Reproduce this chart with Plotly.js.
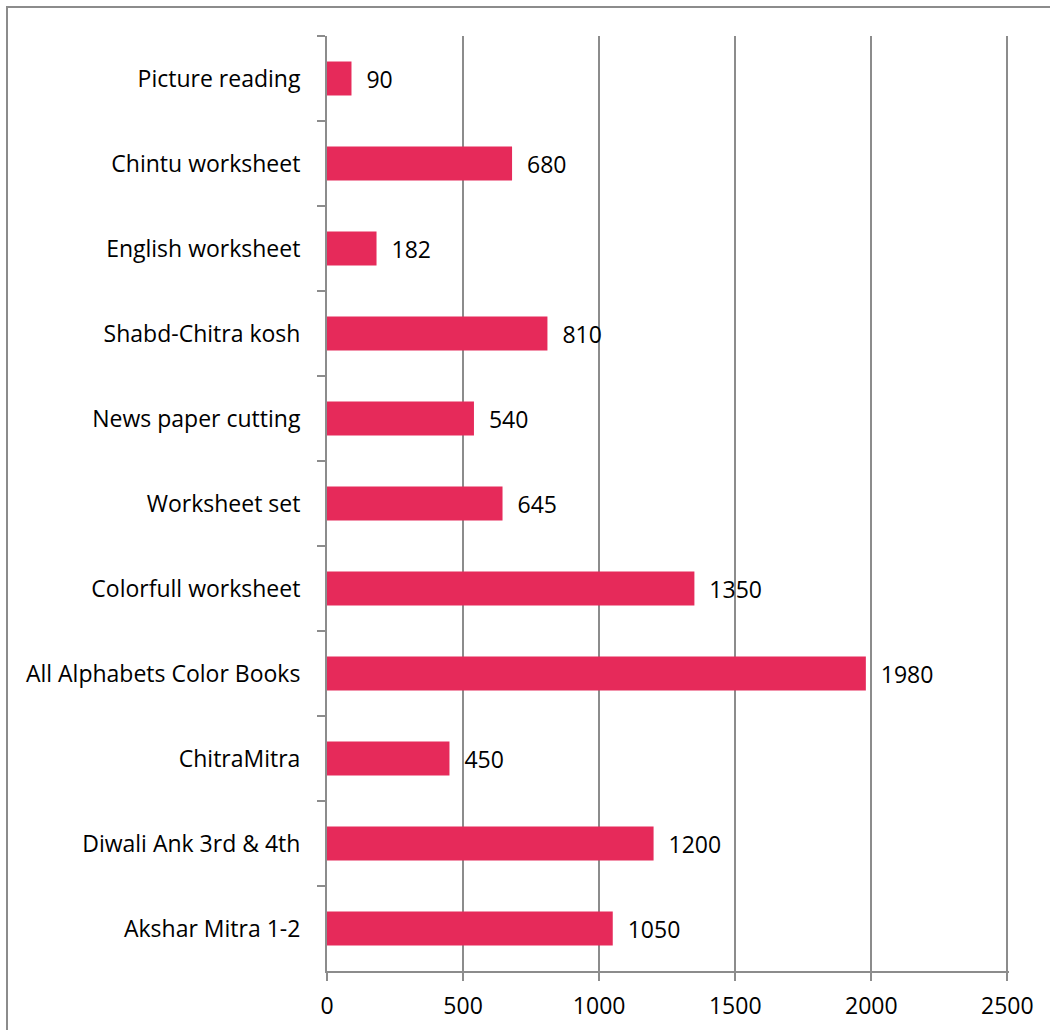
<!DOCTYPE html>
<html>
<head>
<meta charset="utf-8">
<script src="https://cdn.plot.ly/plotly-3.0.1.min.js"></script>
<style>
  html, body { margin: 0; padding: 0; overflow: hidden; background: #fff; }
  #chart { width: 1050px; height: 1030px; }
  #frame { position: absolute; left: 6px; top: 6px; width: 1200px; height: 1200px;
           border: 2px solid #8c8c8c; pointer-events: none; }
</style>
</head>
<body>
<div id="chart"></div>
<div id="frame"></div>
<script>
const categories = [
  "Picture reading",
  "Chintu worksheet",
  "English worksheet",
  "Shabd-Chitra kosh",
  "News paper cutting",
  "Worksheet set",
  "Colorfull worksheet",
  "All Alphabets Color Books",
  "ChitraMitra",
  "Diwali Ank 3rd & 4th",
  "Akshar Mitra 1-2"
];
const values = [90, 680, 182, 810, 540, 645, 1350, 1980, 450, 1200, 1050];
const xTickValues = [0, 500, 1000, 1500, 2000, 2500];

const font = "'Open Sans', 'Noto Sans', sans-serif";

const trace = {
  type: "bar",
  orientation: "h",
  y: categories,
  x: values,
  marker: { color: "#E62A5A" },
  width: 0.4,
  text: values.map(String),
  texttemplate: "  %{text}",
  textposition: "outside",
  cliponaxis: false,
  textfont: { family: font, size: 23, color: "#000" },
  hoverinfo: "skip"
};

const layout = {
  width: 1050,
  height: 1030,
  margin: { l: 327, r: 41, t: 36, b: 59, pad: 0 },
  paper_bgcolor: "#fff",
  plot_bgcolor: "#fff",
  showlegend: false,
  font: { family: font, size: 23, color: "#000" },
  xaxis: {
    range: [0, 2506],
    tickvals: xTickValues,
    ticktext: xTickValues.map(String),
    showgrid: true,
    gridcolor: "#8c8c8c",
    gridwidth: 2,
    zeroline: false,
    showline: true,
    linecolor: "#8c8c8c",
    linewidth: 2,
    ticks: "outside",
    ticklen: 8,
    tickwidth: 2,
    tickcolor: "#8c8c8c",
    ticklabelstandoff: 5,
    tickfont: { family: font, size: 23, color: "#000" },
    fixedrange: true
  },
  yaxis: {
    type: "category",
    autorange: "reversed",
    showgrid: false,
    zeroline: false,
    showline: true,
    linecolor: "#8c8c8c",
    linewidth: 2,
    ticks: "outside",
    tickson: "boundaries",
    ticklen: 8,
    tickwidth: 2,
    tickcolor: "#8c8c8c",
    ticklabelstandoff: 20,
    tickfont: { family: font, size: 23, color: "#000" },
    fixedrange: true
  }
};

Plotly.newPlot("chart", [trace], layout, { displayModeBar: false, staticPlot: true });
</script>
</body>
</html>
